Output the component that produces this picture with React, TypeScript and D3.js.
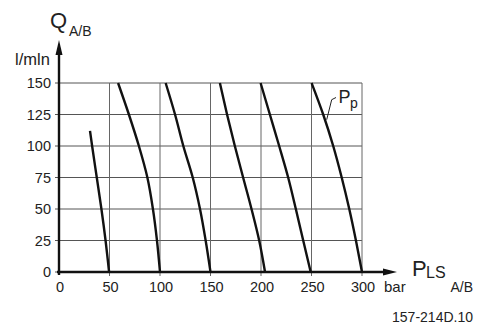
import React from "react";
import * as d3 from "d3";

// Flow levels (l/min) at which curve pressures were read
const qLevels = [150, 125, 100, 75, 50, 25, 0];
// First (short) curve
const curve1Q = [112, 100, 75, 50, 25, 0];
const curve1P = [30.7, 32.8, 37.4, 42.0, 46.1, 49.6];
// Remaining curves: pressure (bar) at each qLevel
const curve2P = [58.5, 69.2, 79.1, 87.5, 93.0, 97.0, 100];
const curve3P = [105.6, 114.9, 123.1, 132.4, 139.6, 145.2, 150];
const curve4P = [159.3, 166.4, 174.1, 182.3, 190.6, 198.2, 204];
const curve5P = [199.6, 208.8, 218.0, 226.9, 234.5, 241.8, 249.2];
const curve6P = [250.1, 261.6, 271.5, 279.9, 287.4, 294.0, 300];

const xTicks = [0, 50, 100, 150, 200, 250, 300];
const yTicks = [0, 25, 50, 75, 100, 125, 150];

const FONT = "'Liberation Sans', Arial, Helvetica, sans-serif";

export default function App() {
  const x = d3.scaleLinear().domain([0, 300]).range([59, 362]);
  const y = d3.scaleLinear().domain([0, 150]).range([272, 83]);

  const line = d3
    .line<[number, number]>()
    .x((d) => x(d[0]))
    .y((d) => y(d[1]))
    .curve(d3.curveMonotoneY);

  const curves: [number, number][][] = [
    curve1P.map((p, i) => [p, curve1Q[i]] as [number, number]),
    ...[curve2P, curve3P, curve4P, curve5P, curve6P].map((ps) =>
      ps.map((p, i) => [p, qLevels[i]] as [number, number])
    ),
  ];

  const axisY0 = y(0);
  const axisX0 = x(0);

  return (
    <svg
      width={480}
      height={327}
      style={{ position: "absolute", left: 0, top: 0, background: "#fff" }}
      fontFamily={FONT}
    >
      {/* grid */}
      {yTicks
        .filter((t) => t > 0)
        .map((t) => (
          <line
            key={"gy" + t}
            x1={axisX0}
            x2={x(300)}
            y1={y(t)}
            y2={y(t)}
            stroke="#555"
            strokeWidth={1}
          />
        ))}
      {xTicks
        .filter((t) => t > 0)
        .map((t) => (
          <line
            key={"gx" + t}
            x1={x(t)}
            x2={x(t)}
            y1={y(150)}
            y2={axisY0 + 4}
            stroke="#666"
            strokeWidth={1}
          />
        ))}
      {/* y ticks */}
      {yTicks.map((t) => (
        <line
          key={"ty" + t}
          x1={axisX0 - 4}
          x2={axisX0}
          y1={y(t)}
          y2={y(t)}
          stroke="#555"
          strokeWidth={1}
        />
      ))}

      {/* curves */}
      {curves.map((c, i) => (
        <path
          key={"c" + i}
          d={line(c) || ""}
          fill="none"
          stroke="#111"
          strokeWidth={2.4}
        />
      ))}

      {/* axes */}
      <line x1={axisX0} x2={axisX0} y1={axisY0 + 3} y2={52} stroke="#111" strokeWidth={2.4} />
      <path d={`M${axisX0},40 L${axisX0 - 3.5},55 L${axisX0 + 3.5},55 Z`} fill="#111" />
      <line x1={axisX0 - 2} x2={386} y1={axisY0} y2={axisY0} stroke="#111" strokeWidth={2.4} />
      <path d={`M397,${axisY0} L383,${axisY0 - 3.5} L383,${axisY0 + 3.5} Z`} fill="#111" />

      {/* y tick labels */}
      {yTicks.map((t) => (
        <text
          key={"ly" + t}
          x={51}
          y={y(t) + 5}
          textAnchor="end"
          fontSize={14.5}
          fill="#222"
        >
          {t}
        </text>
      ))}
      {/* x tick labels */}
      {xTicks.map((t) => (
        <text
          key={"lx" + t}
          x={x(t) + 1}
          y={292}
          textAnchor="middle"
          fontSize={14.5}
          fill="#222"
        >
          {t}
        </text>
      ))}
      <text x={384} y={292} fontSize={15} fill="#222">
        bar
      </text>

      {/* axis titles */}
      <text x={50} y={28} fontSize={22} fill="#222">
        Q
      </text>
      <text x={69} y={36} fontSize={14} fill="#222">
        A/B
      </text>
      <text x={15} y={65} fontSize={16.5} fill="#222">
        l/mln
      </text>

      <text x={412} y={276} fontSize={22} fill="#222">
        P
      </text>
      <text x={426} y={278} fontSize={16} fill="#222">
        LS
      </text>
      <text x={473} y={292} textAnchor="end" fontSize={14} fill="#222">
        A/B
      </text>

      {/* Pp label */}
      <path d="M326.7,119.7 L331.7,99.7 L336,97.5" fill="none" stroke="#222" strokeWidth={1} />
      <text x={338.5} y={103} fontSize={18} fill="#222">
        P
      </text>
      <text x={350} y={108} fontSize={14} fill="#222">
        p
      </text>

      {/* figure id */}
      <text x={473} y={322} textAnchor="end" fontSize={14} fill="#222">
        157-214D.10
      </text>
    </svg>
  );
}
